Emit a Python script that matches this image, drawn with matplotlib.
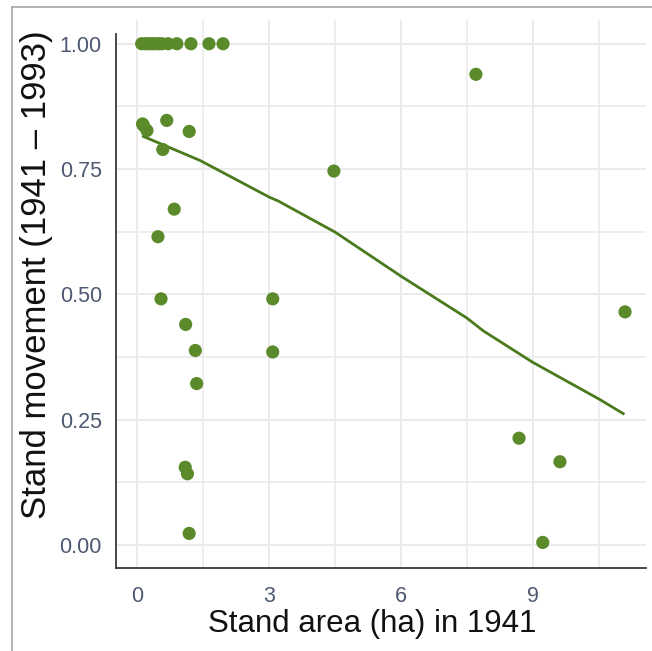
import matplotlib
matplotlib.use("Agg")
import matplotlib.pyplot as plt
from matplotlib.lines import Line2D

plt.rcParams['font.family'] = ['Liberation Sans', 'DejaVu Sans']

# stands with full movement (y = 1.00)
area_full = [0.11, 0.20, 0.27, 0.35, 0.41, 0.50, 0.57, 0.71, 0.91, 1.23, 1.64, 1.96]
move_full = [1.0] * len(area_full)

# remaining stands
area_other = [0.13, 0.15, 0.23, 0.68, 1.19, 0.59, 0.85, 0.48, 0.55, 1.11, 1.33, 1.36,
              1.10, 1.15, 1.19, 3.09, 3.09, 4.48, 7.71, 11.10, 8.69, 9.62, 9.23]
move_other = [0.840, 0.837, 0.827, 0.847, 0.825, 0.789, 0.670, 0.615, 0.491, 0.440, 0.388, 0.322,
              0.155, 0.142, 0.023, 0.491, 0.385, 0.746, 0.939, 0.465, 0.213, 0.166, 0.005]

# fitted trend line
fit_x = [0.15, 1.44, 3.01, 3.22, 4.51, 6.01, 7.50, 7.88, 8.99, 10.51, 11.06]
fit_y = [0.815, 0.767, 0.694, 0.686, 0.624, 0.536, 0.453, 0.427, 0.365, 0.291, 0.262]

x_ticks = [0, 3, 6, 9]
y_ticks = [0.0, 0.25, 0.5, 0.75, 1.0]
y_ticklabels = ['0.00', '0.25', '0.50', '0.75', '1.00']

pt_color = '#5b8a2b'
line_color = '#4a7a1c'
grid_color = '#ebebeb'
tick_color = '#4e5870'

fig = plt.figure(figsize=(6.52, 6.51), dpi=100)
ax = fig.add_axes([0.1775, 0.1275, 0.8135, 0.8415])

ax.plot(fit_x, fit_y, color=line_color, lw=2.0, zorder=3)
ax.scatter(area_full + area_other, move_full + move_other, s=90, color=pt_color,
           edgecolors='none', zorder=4)

ax.set_xlim(-0.48, 11.58)
ax.set_ylim(-0.046, 1.047)

ax.set_xticks(x_ticks)
ax.set_yticks(y_ticks)
ax.set_yticklabels(y_ticklabels)
ax.set_xticks([1.5, 4.5, 7.5, 10.5], minor=True)
ax.set_yticks([0.125, 0.375, 0.625, 0.875], minor=True)
ax.grid(True, which='major', color=grid_color, lw=1.4)
ax.grid(True, which='minor', color=grid_color, lw=1.2)
ax.set_axisbelow(True)

ax.tick_params(which='both', length=0)
ax.tick_params(axis='both', labelsize=15.5, labelcolor=tick_color)
ax.tick_params(axis='x', pad=13)
ax.tick_params(axis='y', pad=10)

for side in ['top', 'right']:
    ax.spines[side].set_visible(False)
for side in ['left', 'bottom']:
    ax.spines[side].set_color('#3a3a3a')
    ax.spines[side].set_linewidth(1.3)
ax.spines['left'].set_bounds(-0.046, 1.02)

ax.set_xlabel('Stand area (ha) in 1941', fontsize=22.5, color='#111111', labelpad=4)
ax.xaxis.set_label_coords(0.483, -0.075)
ax.set_ylabel('Stand movement (1941 \u2013 1993)', fontsize=25, color='#111111')
ax.yaxis.set_label_coords(-0.118, 0.536)

# thin grey frame around the picture (left and top edges)
fig.add_artist(Line2D([12 / 652, 12 / 652], [0, 1 - 7 / 651], transform=fig.transFigure,
                      color='#a8a8a8', lw=1.2))
fig.add_artist(Line2D([12 / 652, 1], [1 - 7 / 651, 1 - 7 / 651], transform=fig.transFigure,
                      color='#a8a8a8', lw=1.2))

fig.savefig('out.png', dpi=100)
